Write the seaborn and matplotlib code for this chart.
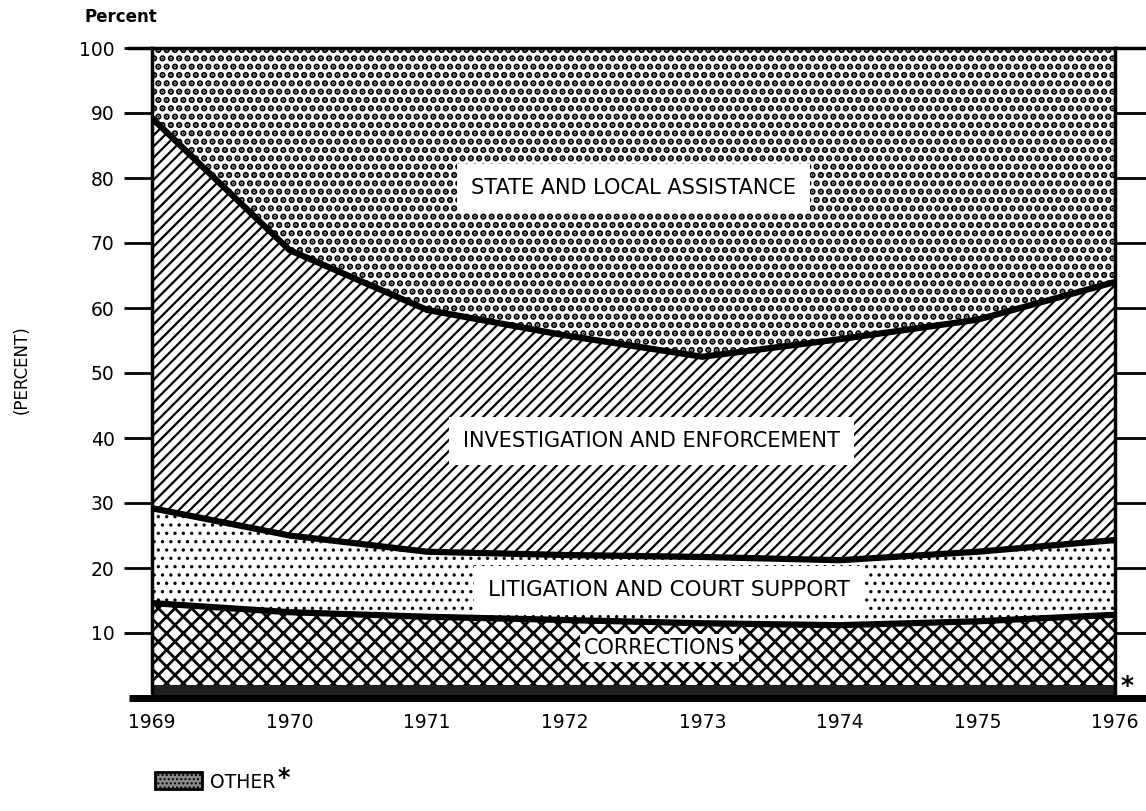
import numpy as np
import pandas as pd
import matplotlib
matplotlib.use('Agg')
import matplotlib.pyplot as plt
import matplotlib.transforms as mtransforms
from matplotlib.patches import Rectangle
import seaborn as sns

# shares of each program area, percent of total
years = [1969, 1970, 1971, 1972, 1973, 1974, 1975, 1976]
other = [2.0, 2.0, 2.0, 2.0, 2.0, 2.0, 2.0, 2.0]
corrections = [12.6, 11.2, 10.5, 10.0, 9.5, 9.2, 9.8, 10.8]
litigation = [14.6, 11.8, 10.0, 10.0, 10.2, 10.0, 10.7, 11.5]
investigation = [60.0, 43.9, 37.2, 33.8, 30.8, 34.0, 35.7, 39.7]
state_local = [10.8, 31.1, 40.3, 44.2, 47.5, 44.8, 41.8, 36.0]

area_names = ['OTHER', 'CORRECTIONS', 'LITIGATION AND COURT SUPPORT',
              'INVESTIGATION AND ENFORCEMENT', 'STATE AND LOCAL ASSISTANCE']
y_ticks = [10, 20, 30, 40, 50, 60, 70, 80, 90, 100]

sns.set_style('white')
plt.rcParams['font.family'] = ['DejaVu Sans']
plt.rcParams['text.color'] = 'black'
plt.rcParams['xtick.color'] = 'black'
plt.rcParams['ytick.color'] = 'black'
plt.rcParams['axes.labelcolor'] = 'black'

df = pd.DataFrame({
    'OTHER': other,
    'CORRECTIONS': corrections,
    'LITIGATION AND COURT SUPPORT': litigation,
    'INVESTIGATION AND ENFORCEMENT': investigation,
    'STATE AND LOCAL ASSISTANCE': state_local,
}, index=years)
cum = df.cumsum(axis=1)

fig = plt.figure(figsize=(11.46, 8.11), dpi=100)
ax = fig.add_axes([152 / 1146, 113 / 811, 963 / 1146, 650 / 811])

# hatch, hatch line width, face colour
fills = {
    'OTHER': (None, 1.0, '#202020'),
    'CORRECTIONS': ('xx', 2.0, 'white'),
    'LITIGATION AND COURT SUPPORT': ('..', 1.2, 'white'),
    'INVESTIGATION AND ENFORCEMENT': ('///', 1.6, 'white'),
    'STATE AND LOCAL ASSISTANCE': ('..', 3.2, 'white'),
}

lower = np.zeros(len(years))
for name in area_names:
    hatch, hlw, face = fills[name]
    upper = cum[name].values
    plt.rcParams['hatch.linewidth'] = hlw
    coll = ax.fill_between(years, lower, upper, facecolor=face, edgecolor='black',
                           hatch=hatch, linewidth=0)
    if hasattr(coll, 'set_hatch_linewidth'):
        coll.set_hatch_linewidth(hlw)
    lower = upper

# heavy boundary lines between the bands
for name in area_names[1:4]:
    sns.lineplot(x=years, y=cum[name].values, color='black', linewidth=4.5, ax=ax)

ax.set_xlim(years[0], years[-1])
ax.set_ylim(0, 100)

for side in ['left', 'right', 'top']:
    ax.spines[side].set_visible(True)
    ax.spines[side].set_color('black')
    ax.spines[side].set_linewidth(2.5)
ax.spines['bottom'].set_visible(False)

# thick base line running past both sides
trans = mtransforms.blended_transform_factory(ax.transAxes, ax.transData)
ax.plot([-0.024, 1.032], [0, 0], transform=trans, color='black', linewidth=5,
        clip_on=False, solid_capstyle='butt')
ax.plot([-0.025, 0], [100, 100], transform=trans, color='black', linewidth=2.5,
        clip_on=False)
ax.plot([1, 1.032], [100, 100], transform=trans, color='black', linewidth=2.5,
        clip_on=False)

ax.set_yticks(y_ticks)
ax.set_yticklabels([str(v) for v in y_ticks])
ax.tick_params(axis='y', which='both', left=True, right=True, direction='out',
               length=20, width=2, color='black', labelsize=13.5, pad=7)
ax.yaxis.set_ticks_position('both')
for t in ax.yaxis.get_major_ticks():
    t.tick2line.set_markersize(22)

ax.set_xticks(years)
ax.set_xticklabels([str(y) for y in years])
ax.tick_params(axis='x', bottom=True, top=False, direction='in', length=24,
               width=2, color='black', labelsize=13.5, pad=11)
ax.set_xlabel('')
ax.set_ylabel('')

box = dict(facecolor='white', edgecolor='none', pad=10)
ax.text(1972.5, 78.5, 'STATE AND LOCAL ASSISTANCE', ha='center', va='center',
        fontsize=15, bbox=box)
ax.text(1972.63, 39.5, 'INVESTIGATION AND ENFORCEMENT', ha='center', va='center',
        fontsize=15, bbox=box)
ax.text(1972.76, 16.6, 'LITIGATION AND COURT SUPPORT', ha='center', va='center',
        fontsize=15.5, bbox=box)
ax.text(1972.69, 7.7, 'CORRECTIONS', ha='center', va='center', fontsize=15,
        bbox=dict(facecolor='white', edgecolor='none', pad=3))
ax.text(1.006, 0.018, '*', transform=ax.transAxes, ha='left', va='center',
        fontsize=18, fontweight='bold')

fig.text(85 / 1146, 1 - 17 / 811, 'Percent', ha='left', va='center',
         fontsize=12, fontweight='bold')
fig.text(22 / 1146, 1 - 370 / 811, '(PERCENT)', ha='center', va='center',
         rotation=90, fontsize=12)

# legend entry for the thin "other" band
plt.rcParams['hatch.linewidth'] = 1.0
fig.patches.append(Rectangle((155 / 1146, 1 - 789 / 811), 47 / 1146, 17 / 811,
                             transform=fig.transFigure, facecolor='#8a8a8a',
                             edgecolor='black', hatch='....', linewidth=2))
fig.text(210 / 1146, 1 - 782 / 811, 'OTHER', ha='left', va='center', fontsize=13.5)
fig.text(277 / 1146, 1 - 778 / 811, '*', ha='left', va='center', fontsize=17,
         fontweight='bold')

fig.savefig('out.png', dpi=100)
